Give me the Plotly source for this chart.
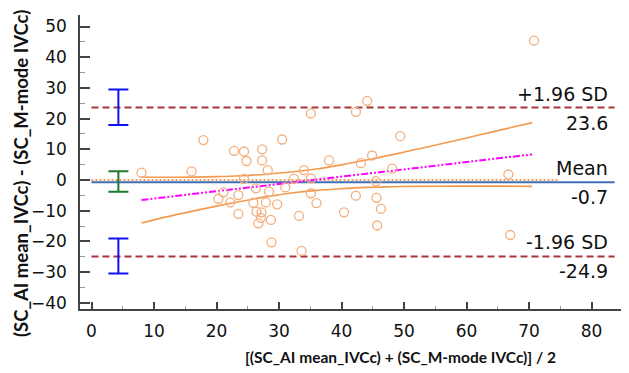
import plotly.graph_objects as go

# ---- data ----
mean_x = [8.0, 16.0, 17.9, 20.3, 21.1, 22.2, 22.8, 23.5, 23.5, 24.4, 24.4, 24.8, 25.9,
          26.3, 26.4, 26.7, 27.1, 27.2, 27.3, 27.3, 27.9, 28.2, 28.4, 28.7, 28.8, 29.7,
          30.5, 31.0, 32.4, 33.2, 33.6, 34.0, 35.1, 35.1, 35.1, 36.0, 38.0, 40.4, 42.3,
          42.3, 43.1, 44.1, 44.9, 45.5, 45.6, 45.7, 46.3, 48.1, 49.4, 66.7, 67.0, 70.8]
diff_y = [2.4, 2.8, 13.0, -6.1, -4.0, -7.3, 9.5, -4.9, -11.0, 9.3, 0.4, 6.2, -7.4,
          -2.7, -10.3, -14.1, -12.3, -10.5, 10.0, 6.4, -7.3, 3.2, -3.8, -13.0, -20.3, -7.9,
          13.2, -2.4, 0.4, -11.7, -23.1, 3.2, 21.7, 0.5, -4.3, -7.5, 6.4, -10.5, 22.2,
          -5.1, 5.5, 25.8, 8.0, -0.4, -5.8, -14.8, -9.4, 3.7, 14.3, 1.8, -17.9, 45.4]

bias = -0.7
upper_loa = 23.6
lower_loa = -24.9
limit_values = [upper_loa, bias, lower_loa]
limit_ci_top = [29.5, 2.9, -19.0]
limit_ci_bottom = [17.9, -3.8, -30.4]

reg_x = [8.0, 70.5]
reg_y = [-6.5, 8.35]

band_x = [8, 12, 16, 20, 24, 28, 32, 36, 40, 44, 48, 52, 56, 60, 64, 68, 70.5]
band_upper = [1.0, 0.9, 0.95, 1.1, 1.4, 1.9, 2.6, 3.6, 4.95, 6.5, 8.2, 10.0, 11.8,
              13.7, 15.6, 17.5, 18.7]
band_lower = [-14.0, -12.0, -10.2, -8.5, -6.9, -5.4, -4.2, -3.35, -2.8, -2.4, -2.2,
              -2.05, -2.0, -1.97, -1.97, -2.0, -2.05]

line_x_start = 0
line_x_end = 83.7
zero_line_end = 74.6
ci_bar_x = 4.3

x_ticks = [0, 10, 20, 30, 40, 50, 60, 70, 80]
y_ticks = [-40, -30, -20, -10, 0, 10, 20, 30, 40, 50]

label_texts = ["+1.96 SD", "Mean", "-1.96 SD"]
value_texts = ["23.6", "-0.7", "-24.9"]

x_title = "[(SC_AI mean_IVCc) + (SC_M-mode IVCc)] / 2"
y_title = "(SC_AI mean_IVCc) - (SC_M-mode IVCc)"

# ---- figure ----
fig = go.Figure()

# zero line (orange dotted)
fig.add_trace(go.Scatter(x=[line_x_start, zero_line_end], y=[0, 0], mode="lines",
                         line=dict(color="#ED7D31", width=1.6, dash="2px,2px"),
                         hoverinfo="skip"))
# mean line
fig.add_trace(go.Scatter(x=[line_x_start, line_x_end], y=[bias, bias], mode="lines",
                         line=dict(color="#3F6FB6", width=2), hoverinfo="skip"))
# limits of agreement
for v in (upper_loa, lower_loa):
    fig.add_trace(go.Scatter(x=[line_x_start, line_x_end], y=[v, v], mode="lines",
                             line=dict(color="#A8343B", width=2, dash="7px,4px"),
                             hoverinfo="skip"))

# regression confidence band
fig.add_trace(go.Scatter(x=band_x, y=band_upper, mode="lines",
                         line=dict(color="#F39A4E", width=1.6, shape="spline"),
                         hoverinfo="skip"))
fig.add_trace(go.Scatter(x=band_x, y=band_lower, mode="lines",
                         line=dict(color="#F39A4E", width=1.6, shape="spline"),
                         hoverinfo="skip"))
# regression line
fig.add_trace(go.Scatter(x=reg_x, y=reg_y, mode="lines",
                         line=dict(color="#FF00FF", width=2,
                                   dash="7px,2px,2px,2px,2px,2px"),
                         hoverinfo="skip"))

# data points
fig.add_trace(go.Scatter(x=mean_x, y=diff_y, mode="markers",
                         marker=dict(symbol="circle-open", size=9, color="#F4AE7C",
                                     line=dict(width=1.3))))

# CI error bars for the limits
bar_colors = ["#1010F0", "#1E7B2A", "#1010F0"]
for v, top, bot, col in zip(limit_values, limit_ci_top, limit_ci_bottom, bar_colors):
    fig.add_trace(go.Scatter(
        x=[ci_bar_x], y=[v], mode="markers",
        marker=dict(size=1, color="rgba(0,0,0,0)"),
        error_y=dict(type="data", symmetric=False, array=[top - v],
                     arrayminus=[v - bot], color=col, thickness=2, width=10),
        hoverinfo="skip"))

# labels on the right
label_x = 82.96
annots = []
for v, lab, val in zip(limit_values, label_texts, value_texts):
    annots.append(dict(x=label_x, y=v, xref="x", yref="y", text=lab, showarrow=False,
                       xanchor="right", yanchor="bottom", yshift=1,
                       font=dict(family="DejaVu Sans", size=19, color="#111111")))
    annots.append(dict(x=label_x, y=v, xref="x", yref="y", text=val, showarrow=False,
                       xanchor="right", yanchor="top", yshift=-2,
                       font=dict(family="DejaVu Sans", size=19, color="#111111")))

annots.append(dict(x=0.583, y=-0.163, xref="paper", yref="paper", text=x_title,
                   showarrow=False, xanchor="center", yanchor="middle",
                   font=dict(family="Lato", size=15.5, color="#111111", weight="bold")))
annots.append(dict(x=-0.1311, y=0.459, xref="paper", yref="paper", text=y_title,
                   showarrow=False, xanchor="left", yanchor="middle", textangle=-90,
                   font=dict(family="Lato", size=18.5, color="#111111", weight="bold")))

# the page draws the figure with an 8px body margin, so the figure is sized
# and padded so that the plot area lands where it does in the reference
fig.update_layout(
    width=621, height=365,
    margin=dict(l=72, r=0, t=7, b=64),
    paper_bgcolor="white", plot_bgcolor="white",
    showlegend=False,
    annotations=annots,
    xaxis=dict(range=[-1.84, 86.0], tickmode="array", tickvals=x_ticks,
               ticks="inside", ticklen=7, tickwidth=1.5, tickcolor="#444444",
               showline=True, linecolor="#444444", linewidth=1.5,
               showgrid=False, zeroline=False,
               minor=dict(ticks="inside", ticklen=3, tickwidth=1, tickcolor="#999999",
                          dtick=5, tick0=0, showgrid=False),
               tickfont=dict(family="DejaVu Sans", size=17, color="#111111"),
               ticklabelstandoff=6),
    yaxis=dict(range=[-42.0, 53.75], tickmode="array", tickvals=y_ticks,
               ticks="inside", ticklen=10, tickwidth=1.5, tickcolor="#444444",
               showline=True, linecolor="#444444", linewidth=1.5,
               showgrid=False, zeroline=False,
               minor=dict(ticks="inside", ticklen=5, tickwidth=1, tickcolor="#999999",
                          dtick=5, tick0=0, showgrid=False),
               tickfont=dict(family="DejaVu Sans", size=17, color="#111111"),
               ticklabelstandoff=8),
)

fig.write_html("out.html", config={"displayModeBar": False})
